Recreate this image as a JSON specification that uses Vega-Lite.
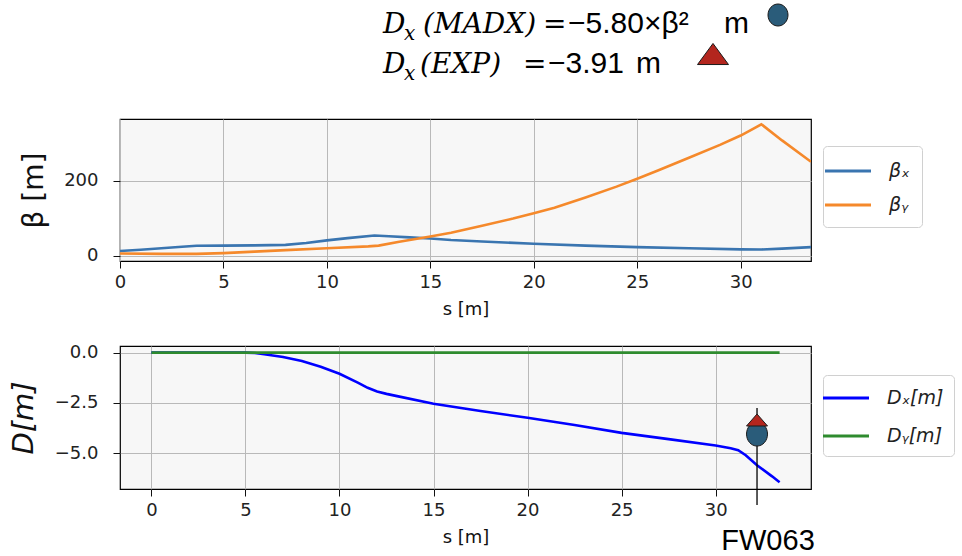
{
  "$schema": "https://vega.github.io/schema/vega-lite/v6.json",
  "background": "white",
  "padding": {"left": 8, "top": 0, "right": 0, "bottom": 0},
  "spacing": 24,
  "datasets": {
    "beta": [
      {"s": 0, "v": 12.5, "k": "βₓ"}, {"s": 1, "v": 16, "k": "βₓ"}, {"s": 2, "v": 20, "k": "βₓ"}, {"s": 3, "v": 24, "k": "βₓ"}, {"s": 3.7, "v": 26.5, "k": "βₓ"}, {"s": 5, "v": 27, "k": "βₓ"}, {"s": 6.5, "v": 27.5, "k": "βₓ"}, {"s": 8, "v": 29, "k": "βₓ"}, {"s": 9, "v": 34, "k": "βₓ"}, {"s": 10, "v": 41, "k": "βₓ"}, {"s": 11, "v": 47, "k": "βₓ"}, {"s": 12.3, "v": 54, "k": "βₓ"}, {"s": 13, "v": 52, "k": "βₓ"}, {"s": 14, "v": 49, "k": "βₓ"}, {"s": 15, "v": 46, "k": "βₓ"}, {"s": 16, "v": 42, "k": "βₓ"}, {"s": 17.5, "v": 38, "k": "βₓ"}, {"s": 20, "v": 32, "k": "βₓ"}, {"s": 22.5, "v": 27, "k": "βₓ"}, {"s": 25, "v": 23, "k": "βₓ"}, {"s": 27.5, "v": 20, "k": "βₓ"}, {"s": 30, "v": 17, "k": "βₓ"}, {"s": 31, "v": 16.5, "k": "βₓ"}, {"s": 32, "v": 19, "k": "βₓ"}, {"s": 33.4, "v": 23, "k": "βₓ"},
      {"s": 0, "v": 6, "k": "βᵧ"}, {"s": 2, "v": 5, "k": "βᵧ"}, {"s": 3.7, "v": 5, "k": "βᵧ"}, {"s": 5, "v": 7, "k": "βᵧ"}, {"s": 6.5, "v": 11, "k": "βᵧ"}, {"s": 8, "v": 15, "k": "βᵧ"}, {"s": 10, "v": 20, "k": "βᵧ"}, {"s": 12, "v": 25, "k": "βᵧ"}, {"s": 12.5, "v": 27, "k": "βᵧ"}, {"s": 13.5, "v": 37, "k": "βᵧ"}, {"s": 15, "v": 51, "k": "βᵧ"}, {"s": 16, "v": 61, "k": "βᵧ"}, {"s": 17.5, "v": 80, "k": "βᵧ"}, {"s": 19, "v": 99, "k": "βᵧ"}, {"s": 20, "v": 113, "k": "βᵧ"}, {"s": 21, "v": 128, "k": "βᵧ"}, {"s": 22.5, "v": 155, "k": "βᵧ"}, {"s": 24, "v": 184, "k": "βᵧ"}, {"s": 25, "v": 205, "k": "βᵧ"}, {"s": 26, "v": 227, "k": "βᵧ"}, {"s": 27.5, "v": 261, "k": "βᵧ"}, {"s": 29, "v": 295, "k": "βᵧ"}, {"s": 30, "v": 320, "k": "βᵧ"}, {"s": 30.6, "v": 338, "k": "βᵧ"}, {"s": 31, "v": 350, "k": "βᵧ"}, {"s": 32, "v": 307, "k": "βᵧ"}, {"s": 33.4, "v": 250, "k": "βᵧ"}
    ],
    "disp": [
      {"s": 0, "v": 0, "k": "Dₓ[m]"}, {"s": 4, "v": 0, "k": "Dₓ[m]"}, {"s": 5, "v": 0, "k": "Dₓ[m]"}, {"s": 5.5, "v": -0.02, "k": "Dₓ[m]"}, {"s": 6, "v": -0.08, "k": "Dₓ[m]"}, {"s": 7, "v": -0.22, "k": "Dₓ[m]"}, {"s": 8, "v": -0.42, "k": "Dₓ[m]"}, {"s": 9, "v": -0.7, "k": "Dₓ[m]"}, {"s": 10, "v": -1.05, "k": "Dₓ[m]"}, {"s": 11, "v": -1.5, "k": "Dₓ[m]"}, {"s": 11.5, "v": -1.75, "k": "Dₓ[m]"}, {"s": 12, "v": -1.93, "k": "Dₓ[m]"}, {"s": 12.5, "v": -2.05, "k": "Dₓ[m]"}, {"s": 13, "v": -2.15, "k": "Dₓ[m]"}, {"s": 15, "v": -2.54, "k": "Dₓ[m]"}, {"s": 17.5, "v": -2.9, "k": "Dₓ[m]"}, {"s": 20, "v": -3.24, "k": "Dₓ[m]"}, {"s": 22.5, "v": -3.6, "k": "Dₓ[m]"}, {"s": 25, "v": -3.99, "k": "Dₓ[m]"}, {"s": 27.5, "v": -4.3, "k": "Dₓ[m]"}, {"s": 30, "v": -4.62, "k": "Dₓ[m]"}, {"s": 30.8, "v": -4.75, "k": "Dₓ[m]"}, {"s": 31.2, "v": -4.85, "k": "Dₓ[m]"}, {"s": 31.6, "v": -5.1, "k": "Dₓ[m]"}, {"s": 32.2, "v": -5.6, "k": "Dₓ[m]"}, {"s": 33, "v": -6.15, "k": "Dₓ[m]"}, {"s": 33.4, "v": -6.44, "k": "Dₓ[m]"},
      {"s": 0, "v": 0, "k": "Dᵧ[m]"}, {"s": 33.4, "v": 0, "k": "Dᵧ[m]"}
    ],
    "bpm": [
      {"s": 32.2, "top": -2.75, "bottom": -7.58, "madx": -4.05, "exp": -3.35, "ly": -9.8, "name": "FW063"}
    ],
    "hdrMath": [
      {"hx": 263, "hy": 33, "t": "D"}, {"hx": 303, "hy": 33, "t": "(MADX)"},
      {"hx": 263, "hy": 73, "t": "D"}, {"hx": 300, "hy": 73, "t": "(EXP)"}
    ],
    "hdrSub": [
      {"hx": 284, "hy": 40, "t": "x"}, {"hx": 284, "hy": 80, "t": "x"}
    ],
    "hdrEq": [
      {"hx": 423, "hy": 33, "t": "="}, {"hx": 403, "hy": 73, "t": "="}
    ],
    "hdrPlain": [
      {"hx": 448, "hy": 33, "t": "−5.80×β²"}, {"hx": 604, "hy": 33, "t": "m"},
      {"hx": 428, "hy": 73, "t": "−3.91"}, {"hx": 516, "hy": 73, "t": "m"}
    ],
    "hdrCircle": [{"hx": 658, "hy": 15}],
    "hdrTri": [{"hx": 593, "hy": 54}]
  },
  "resolve": {"scale": {"x": "independent", "y": "independent", "color": "independent"}, "legend": {"color": "independent"}},
  "vconcat": [
    {
      "width": 691,
      "height": 94,
      "view": {"stroke": null, "fill": null},
      "encoding": {
        "x": {"field": "hx", "type": "quantitative", "scale": {"domain": [0, 691], "nice": false, "zero": false}, "axis": null},
        "y": {"field": "hy", "type": "quantitative", "scale": {"domain": [0, 94], "nice": false, "zero": false, "reverse": true}, "axis": null}
      },
      "layer": [
        {"data": {"name": "hdrMath"}, "mark": {"type": "text", "align": "left", "baseline": "alphabetic", "font": "DejaVu Serif", "fontStyle": "italic", "fontSize": 28, "color": "#000"}, "encoding": {"text": {"field": "t"}}},
        {"data": {"name": "hdrSub"}, "mark": {"type": "text", "align": "left", "baseline": "alphabetic", "font": "DejaVu Serif", "fontStyle": "italic", "fontSize": 20, "color": "#000"}, "encoding": {"text": {"field": "t"}}},
        {"data": {"name": "hdrEq"}, "mark": {"type": "text", "align": "left", "baseline": "alphabetic", "font": "DejaVu Serif", "fontSize": 28, "color": "#000"}, "encoding": {"text": {"field": "t"}}},
        {"data": {"name": "hdrPlain"}, "mark": {"type": "text", "align": "left", "baseline": "alphabetic", "font": "Liberation Sans", "fontSize": 30, "color": "#000"}, "encoding": {"text": {"field": "t"}}},
        {"data": {"name": "hdrCircle"}, "mark": {"type": "point", "shape": "M -1 0 A 1 1.1 0 1 0 1 0 A 1 1.1 0 1 0 -1 0 Z", "size": 400, "filled": true, "fill": "#2a5c7a", "stroke": "#1a1a1a", "strokeWidth": 1, "opacity": 1}},
        {"data": {"name": "hdrTri"}, "mark": {"type": "point", "shape": "M 0 -0.68 L 1 0.68 L -1 0.68 Z", "size": 961, "filled": true, "fill": "#b3261e", "stroke": "#1a1a1a", "strokeWidth": 1, "opacity": 1}}
      ]
    },
    {
      "width": 691,
      "height": 142,
      "data": {"name": "beta"},
      "mark": {"type": "line", "strokeWidth": 2.6, "clip": true},
      "encoding": {
        "x": {"field": "s", "type": "quantitative", "scale": {"domain": [0, 33.4], "nice": false, "zero": false}, "axis": {"values": [0, 5, 10, 15, 20, 25, 30], "title": "s [m]", "labelFlush": false, "grid": true}},
        "y": {"field": "v", "type": "quantitative", "scale": {"domain": [-14, 364], "nice": false, "zero": false}, "axis": {"values": [0, 200], "title": "β [m]", "titleFontSize": 28, "titlePadding": 15, "grid": true}},
        "color": {"field": "k", "type": "nominal", "scale": {"domain": ["βₓ", "βᵧ"], "range": ["#3a75b0", "#f5892b"]}, "legend": {"orient": "none", "legendX": 703, "legendY": 27, "title": null, "rowPadding": 11, "padding": 12}},
        "order": {"field": "s", "type": "quantitative"}
      }
    },
    {
      "width": 691,
      "height": 143,
      "encoding": {
        "x": {"field": "s", "type": "quantitative", "scale": {"domain": [-1.67, 35.07], "nice": false, "zero": false}, "axis": {"values": [0, 5, 10, 15, 20, 25, 30], "title": "s [m]", "labelFlush": false, "grid": true}}
      },
      "layer": [
        {
          "data": {"name": "disp"},
          "mark": {"type": "line", "strokeWidth": 2.6},
          "encoding": {
            "y": {"field": "v", "type": "quantitative", "scale": {"domain": [-6.78, 0.33], "nice": false, "zero": false}, "axis": {"values": [0, -2.5, -5], "format": ".1f", "title": "D[m]", "titleFontStyle": "italic", "titleFontSize": 29, "titlePadding": 16, "grid": true}},
            "color": {"field": "k", "type": "nominal", "scale": {"domain": ["Dₓ[m]", "Dᵧ[m]"], "range": ["#0000ff", "#2e8b2e"]}, "legend": {"orient": "none", "legendX": 703, "legendY": 29, "title": null, "rowPadding": 15, "padding": 10}},
            "order": {"field": "s", "type": "quantitative"}
          }
        },
        {
          "data": {"name": "bpm"},
          "mark": {"type": "rule", "color": "#000", "strokeWidth": 1.3, "clip": false},
          "encoding": {"y": {"field": "top", "type": "quantitative"}, "y2": {"field": "bottom"}}
        },
        {
          "data": {"name": "bpm"},
          "mark": {"type": "point", "shape": "M -1 0 A 1 1.14 0 1 0 1 0 A 1 1.14 0 1 0 -1 0 Z", "size": 441, "filled": true, "fill": "#2a5c7a", "stroke": "#1a1a1a", "strokeWidth": 1, "opacity": 1},
          "encoding": {"y": {"field": "madx", "type": "quantitative"}}
        },
        {
          "data": {"name": "bpm"},
          "mark": {"type": "point", "shape": "M 0 -0.57 L 1 0.57 L -1 0.57 Z", "size": 441, "filled": true, "fill": "#b3261e", "stroke": "#1a1a1a", "strokeWidth": 1, "opacity": 1},
          "encoding": {"y": {"field": "exp", "type": "quantitative"}}
        },
        {
          "data": {"name": "bpm"},
          "mark": {"type": "text", "font": "Liberation Sans", "fontSize": 29, "align": "center", "baseline": "alphabetic", "dx": 11, "color": "#000", "clip": false},
          "encoding": {"y": {"field": "ly", "type": "quantitative"}, "text": {"field": "name"}}
        }
      ]
    }
  ],
  "config": {
    "font": "DejaVu Sans",
    "view": {"stroke": "#000", "strokeWidth": 1.2, "fill": "#f7f7f7"},
    "axis": {"labelFont": "DejaVu Sans", "labelFontSize": 18, "labelColor": "#222", "titleFont": "DejaVu Sans", "titleFontWeight": "normal", "titleFontSize": 18, "titleColor": "#111", "tickColor": "#111", "tickSize": 7, "labelPadding": 5, "titlePadding": 9, "domain": false, "gridColor": "#b9b9b9", "gridWidth": 1, "gridOpacity": 1},
    "axisY": {"labelPadding": 15},
    "legend": {"symbolType": "M -2 0 L 2 0", "symbolSize": 529, "symbolStrokeWidth": 2.8, "labelFont": "DejaVu Sans", "labelFontStyle": "italic", "labelFontSize": 19, "labelColor": "#222", "labelOffset": 28, "strokeColor": "#d0d0d0", "cornerRadius": 4, "fillColor": "#ffffff"}
  }
}
